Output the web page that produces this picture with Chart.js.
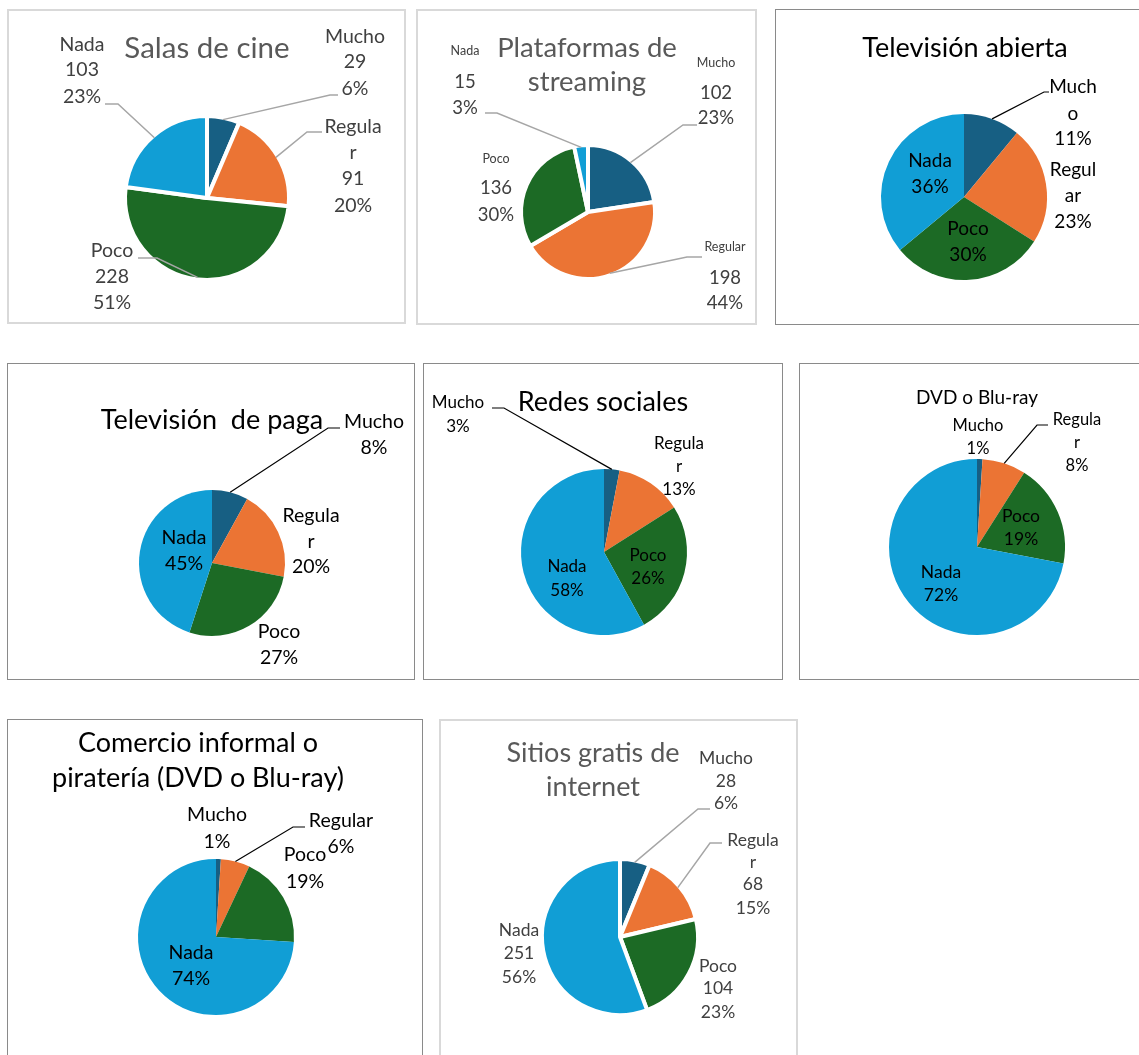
<!DOCTYPE html>
<html lang="es">
<head>
<meta charset="utf-8">
<title>Consumo por medio</title>
<script src="https://cdn.jsdelivr.net/npm/chart.js@4.4.1/dist/chart.umd.min.js"></script>
<style>
  body { margin: 0; background: #fff; width: 1139px; height: 1055px; overflow: hidden; position: relative; }
  canvas { position: absolute; }
  .marco { position: absolute; box-sizing: border-box; pointer-events: none; }
  .claro { border: 2px solid #d9d9d9; }
  .oscuro { border: 1.5px solid #8a8a8a; }
</style>
</head>
<body>
<script>
// Datos de las gráficas (orden: Mucho, Regular, Poco, Nada)
const categorias = ['Mucho', 'Regular', 'Poco', 'Nada'];
const salasCine = [29, 91, 228, 103];
const streaming = [102, 198, 136, 15];
const tvAbierta = [11, 23, 30, 36];
const tvPaga = [8, 20, 27, 45];
const redesSociales = [3, 13, 26, 58];
const dvdBluray = [1, 8, 19, 72];
const pirateria = [1, 6, 19, 74];
const sitiosGratis = [28, 68, 104, 251];
const titulos = [
    'Salas de cine',
    'Plataformas de streaming',
    'Televisión abierta',
    'Televisión  de paga',
    'Redes sociales',
    'DVD o Blu-ray',
    'Comercio informal o piratería (DVD o Blu-ray)',
    'Sitios gratis de internet'
];
const colores = ['#175f83', '#eb7434', '#1c6a25', '#119ed5'];

// Posiciones de cada panel (coordenadas de página)
const paneles = [
    { datos: salasCine, titulo: 0, caja: [7, 9, 399, 315], estilo: 'claro', centro: [207, 198], radio: 80,
      tit: { x: 207, ys: [48], size: 29.5 }, size: 19.5, conValor: true,
      etiquetas: [
          { x: 355, ys: [37, 62, 89], guia: [330, 95, 338] },
          { x: 353, ys: [127, 153, 179, 206], corte: 6, guia: [307, 132, 322] },
          { x: 112, ys: [251, 277, 303], guia: [157, 258, 138] },
          { x: 82, ys: [45, 70, 97], guia: [118, 104, 105] }
      ] },
    { datos: streaming, titulo: 1, caja: [416, 9, 341, 316], estilo: 'claro', centro: [588, 212], radio: 65,
      tit: { x: 587, ys: [48, 82], corte: 14, size: 27.5 }, size: 18.5, nombreSize: 12.5, conValor: true,
      etiquetas: [
          { x: 716, ys: [63, 93, 118], guia: [683, 125, 697] },
          { x: 725, ys: [247, 278, 303], guia: [687, 257, 702] },
          { x: 496, ys: [159, 188, 215] },
          { x: 465, ys: [51, 82, 108], guia: [497, 113, 485] }
      ] },
    { datos: tvAbierta, titulo: 2, caja: [775, 9, 380, 316], estilo: 'oscuro', centro: [964, 197], radio: 83,
      tit: { x: 965, ys: [48], size: 27 }, size: 19,
      etiquetas: [
          { x: 1073, ys: [87, 114, 139], corte: 4, guia: [1044, 92, 1049] },
          { x: 1073, ys: [170, 196, 222], corte: 5 },
          { x: 968, ys: [229, 255] },
          { x: 930, ys: [161, 187] }
      ] },
    { datos: tvPaga, titulo: 3, caja: [7, 363, 408, 317], estilo: 'oscuro', centro: [212, 563], radio: 73,
      tit: { x: 212, ys: [420], size: 27 }, size: 19.5,
      etiquetas: [
          { x: 374, ys: [422, 448], guia: [328, 428, 340] },
          { x: 311, ys: [516, 542, 567], corte: 6 },
          { x: 279, ys: [632, 658] },
          { x: 184, ys: [538, 564] }
      ] },
    { datos: redesSociales, titulo: 4, caja: [423, 363, 360, 317], estilo: 'oscuro', centro: [604, 552], radio: 83,
      tit: { x: 603, ys: [402], size: 27 }, size: 17,
      etiquetas: [
          { x: 458, ys: [403, 427], guia: [504, 408, 492] },
          { x: 679, ys: [444, 467, 490], corte: 6 },
          { x: 648, ys: [556, 579] },
          { x: 567, ys: [567, 591] }
      ] },
    { datos: dvdBluray, titulo: 5, caja: [799, 363, 350, 317], estilo: 'oscuro', centro: [977, 547], radio: 88,
      tit: { x: 977, ys: [398], size: 19 }, size: 17.5,
      etiquetas: [
          { x: 978, ys: [426, 449], size: 16.5 },
          { x: 1077, ys: [420, 443, 466], corte: 6, size: 16.5, guia: [1037, 425, 1048] },
          { x: 1021, ys: [516, 539] },
          { x: 941, ys: [572, 595] }
      ] },
    { datos: pirateria, titulo: 6, caja: [7, 719, 416, 345], estilo: 'oscuro', centro: [216, 937], radio: 78,
      tit: { x: 198, ys: [743, 778], corte: 19, size: 27 }, size: 19.5,
      etiquetas: [
          { x: 217, ys: [815, 842] },
          { x: 341, ys: [821, 847], guia: [293, 827, 305] },
          { x: 305, ys: [855, 882] },
          { x: 191, ys: [953, 979] }
      ] },
    { datos: sitiosGratis, titulo: 7, caja: [439, 719, 359, 345], estilo: 'claro', centro: [620, 937], radio: 76,
      tit: { x: 593, ys: [753, 787], corte: 16, size: 27 }, size: 17.5, conValor: true,
      etiquetas: [
          { x: 726, ys: [758, 781, 803], guia: [698, 809, 710] },
          { x: 753, ys: [840, 862, 884, 908], corte: 6, guia: [710, 843, 722] },
          { x: 718, ys: [966, 988, 1012] },
          { x: 519, ys: [930, 953, 977] }
      ] }
];

function partir(texto, corte) {
    if (!corte) return [texto];
    return [texto.slice(0, corte).trim(), texto.slice(corte).trim()];
}

// Plugin para dibujar título, etiquetas y líneas guía de cada pastel
function crearPlugin(p) {
    const claro = p.estilo === 'claro';
    return {
        id: 'etiquetasPastel',
        afterDatasetsDraw(chart) {
            const ctx = chart.ctx;
            const ox = p.caja[0], oy = p.caja[1];
            const valores = chart.data.datasets[0].data;
            const total = valores.reduce((a, b) => a + b, 0);
            const arcos = chart.getDatasetMeta(0).data;
            ctx.save();
            ctx.textAlign = 'center';
            ctx.textBaseline = 'middle';

            arcos.forEach((arco, i) => {
                const e = p.etiquetas[i];
                if (e.guia) {
                    const medio = (arco.startAngle + arco.endAngle) / 2;
                    const r = p.radio;
                    ctx.beginPath();
                    ctx.moveTo(arco.x + Math.cos(medio) * r, arco.y + Math.sin(medio) * r);
                    ctx.lineTo(e.guia[0] - ox, e.guia[1] - oy);
                    ctx.lineTo(e.guia[2] - ox, e.guia[1] - oy);
                    ctx.strokeStyle = claro ? '#a6a6a6' : '#000';
                    ctx.lineWidth = claro ? 1.5 : 1.2;
                    ctx.stroke();
                }
                const lineas = partir(chart.data.labels[i], e.corte);
                const nNombre = lineas.length;
                if (p.conValor) lineas.push(String(valores[i]));
                lineas.push(Math.round(valores[i] / total * 100) + '%');
                ctx.fillStyle = claro ? '#404040' : '#000';
                lineas.forEach((t, k) => {
                    const size = (k < nNombre && p.nombreSize) ? p.nombreSize : (e.size || p.size);
                    ctx.font = size + 'px Lato';
                    ctx.fillText(t, e.x - ox, e.ys[k] - oy);
                });
            });

            // título
            ctx.fillStyle = claro ? '#595959' : '#000';
            ctx.font = p.tit.size + 'px Lato';
            partir(titulos[p.titulo], p.tit.corte).forEach((t, k) => {
                ctx.fillText(t, p.tit.x - ox, p.tit.ys[k] - oy);
            });
            ctx.restore();
        }
    };
}

paneles.forEach(function (p) {
    const [x, y, w, h] = p.caja;
    const canvas = document.createElement('canvas');
    canvas.width = w;
    canvas.height = h;
    canvas.style.left = x + 'px';
    canvas.style.top = y + 'px';
    canvas.style.width = w + 'px';
    canvas.style.height = h + 'px';
    document.body.appendChild(canvas);

    const marco = document.createElement('div');
    marco.className = 'marco ' + p.estilo;
    marco.style.left = x + 'px';
    marco.style.top = y + 'px';
    marco.style.width = w + 'px';
    marco.style.height = h + 'px';
    document.body.appendChild(marco);

    const borde = p.estilo === 'claro' ? 4 : 0;
    const cx = p.centro[0] - x, cy = p.centro[1] - y;
    const s = p.radio + 6;

    new Chart(canvas, {
        type: 'pie',
        data: {
            labels: categorias,
            datasets: [{
                data: p.datos,
                backgroundColor: colores,
                borderColor: '#ffffff',
                borderWidth: borde,
                radius: p.radio + borde / 2
            }]
        },
        options: {
            responsive: false,
            animation: false,
            layout: { padding: { left: cx - s, top: cy - s, right: w - cx - s, bottom: h - cy - s } },
            plugins: {
                legend: { display: false },
                tooltip: { enabled: false }
            }
        },
        plugins: [crearPlugin(p)]
    });
});
</script>
</body>
</html>
